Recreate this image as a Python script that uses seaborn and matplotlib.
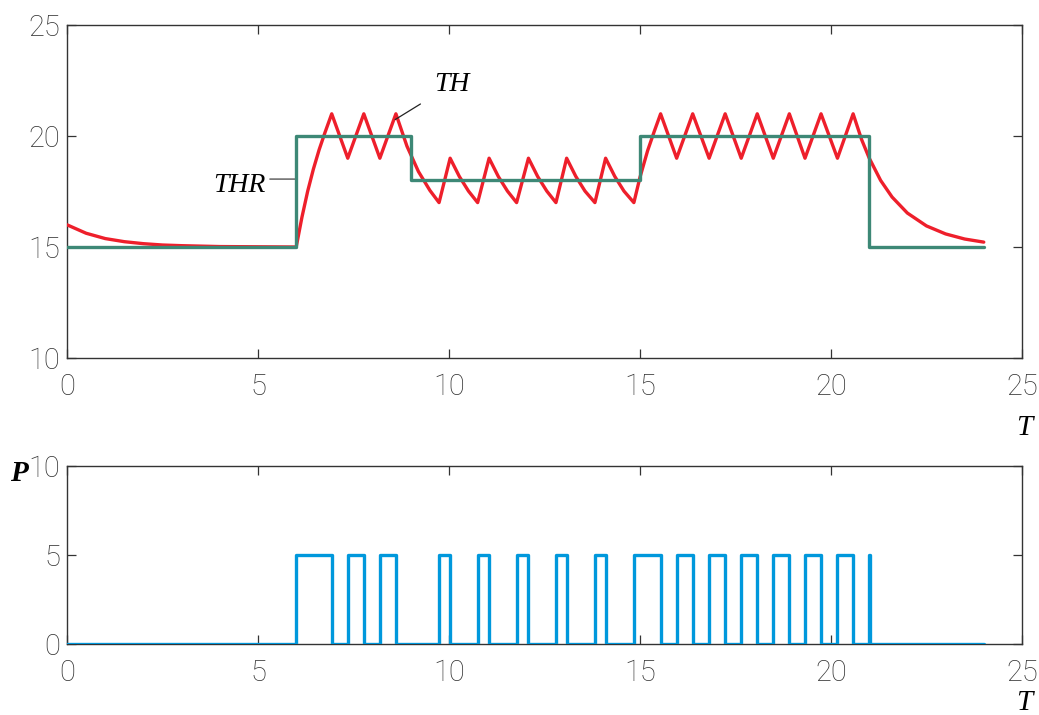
import matplotlib
matplotlib.use("Agg")
import matplotlib.pyplot as plt
import seaborn as sns

# Room temperature TH (time, value)
th_time = [0.0, 0.5, 1.0, 1.5, 2.0, 2.5, 3.0, 4.0, 5.0, 6.0,
           6.15, 6.3, 6.45, 6.6, 6.75, 6.93,
           7.35, 7.77, 8.19, 8.61,
           8.9, 9.2, 9.5, 9.74,
           10.03, 10.27, 10.51, 10.75,
           11.05, 11.29, 11.53, 11.77,
           12.08, 12.32, 12.56, 12.80,
           13.08, 13.32, 13.56, 13.82,
           14.10, 14.34, 14.58, 14.84,
           15.0, 15.2, 15.37, 15.54,
           15.96, 16.38, 16.81, 17.23, 17.65, 18.07, 18.49, 18.91,
           19.32, 19.74, 20.17, 20.58,
           20.8, 21.0, 21.3, 21.6, 22.0, 22.5, 23.0, 23.5, 24.0]
th_value = [16.0, 15.62, 15.38, 15.24, 15.15, 15.09, 15.06, 15.02, 15.01, 15.0,
            16.34, 17.51, 18.51, 19.38, 20.14, 21.0,
            19.0, 21.0, 19.0, 21.0,
            19.54, 18.40, 17.55, 17.0,
            19.0, 18.18, 17.52, 17.0,
            19.0, 18.18, 17.52, 17.0,
            19.0, 18.18, 17.52, 17.0,
            19.0, 18.18, 17.52, 17.0,
            19.0, 18.18, 17.52, 17.0,
            18.14, 19.34, 20.19, 21.0,
            19.0, 21.0, 19.0, 21.0, 19.0, 21.0, 19.0, 21.0,
            19.0, 21.0, 19.0, 21.0,
            19.85, 19.01, 18.0, 17.25, 16.53, 15.95, 15.59, 15.36, 15.22]

# Set point THR (switching times, level held until next time)
thr_time = [0, 6, 9, 15, 21, 24]
thr_value = [15, 20, 18, 20, 15, 15]

# Heater power P (switching times, level held until next time)
p_time = [0.0, 6.0, 6.93, 7.35, 7.77, 8.19, 8.61, 9.74, 10.03, 10.75, 11.05,
          11.77, 12.08, 12.80, 13.08, 13.82, 14.10, 14.84, 15.54, 15.96, 16.38,
          16.81, 17.23, 17.65, 18.07, 18.49, 18.91, 19.32, 19.74, 20.17, 20.58,
          21.0, 21.01, 24.0]
p_value = [0, 5, 0, 5, 0, 5, 0, 5, 0, 5, 0,
           5, 0, 5, 0, 5, 0, 5, 0, 5, 0,
           5, 0, 5, 0, 5, 0, 5, 0, 5, 0,
           5, 0, 0]

x_ticks = [0, 5, 10, 15, 20, 25]
top_y_ticks = [10, 15, 20, 25]
bottom_y_ticks = [0, 5, 10]

sns.set_theme(style="white")
plt.rcParams["font.family"] = ["Roboto", "DejaVu Sans"]
plt.rcParams["font.weight"] = "light"

RED = "#ee1f2b"
GREEN = "#3d8876"
BLUE = "#0098dc"
FRAME = "#333333"

fig = plt.figure(figsize=(10.39, 7.15), dpi=100)
ax1 = fig.add_axes([0.0645, 0.4993, 0.9191, 0.4657])
ax2 = fig.add_axes([0.0645, 0.0993, 0.9191, 0.2494])

sns.lineplot(x=th_time, y=th_value, ax=ax1, color=RED, linewidth=2.4,
             estimator=None, sort=False, zorder=3)
sns.lineplot(x=thr_time, y=thr_value, ax=ax1, color=GREEN, linewidth=2.4,
             estimator=None, sort=False, drawstyle="steps-post", zorder=4)
sns.lineplot(x=p_time, y=p_value, ax=ax2, color=BLUE, linewidth=2.4,
             estimator=None, sort=False, drawstyle="steps-post", zorder=3)

for ax, yt, ylim in ((ax1, top_y_ticks, (10, 25)), (ax2, bottom_y_ticks, (0, 10))):
    ax.set_xlim(0, 25)
    ax.set_ylim(*ylim)
    ax.set_xticks(x_ticks)
    ax.set_yticks(yt)
    ax.set_xticklabels([str(v) for v in x_ticks], fontweight="light")
    ax.set_yticklabels([str(v) for v in yt], fontweight="light")
    ax.set_xlabel("")
    ax.set_ylabel("")
    for s in ax.spines.values():
        s.set_visible(True)
        s.set_color(FRAME)
        s.set_linewidth(1.0)
    ax.tick_params(axis="both", which="both", direction="in", length=6.5,
                   width=0.9, color=FRAME, labelcolor="#333333",
                   labelsize=21, top=True, right=True, bottom=True, left=True)
    ax.tick_params(axis="x", pad=11)
    ax.tick_params(axis="y", pad=5)
    ax.grid(False)

serif = ["Liberation Serif", "DejaVu Serif"]
ax1.text(25.05, 6.85, "T", fontsize=21, style="italic", weight="normal",
         family=serif, color="black", ha="center", va="center", clip_on=False)
ax2.text(25.05, -3.31, "T", fontsize=21, style="italic", weight="normal",
         family=serif, color="black", ha="center", va="center", clip_on=False)
ax2.text(-1.25, 9.55, "P", fontsize=21, style="italic", weight="bold",
         family=serif, color="black", ha="center", va="center", clip_on=False)

ax1.annotate("TH", xy=(8.59, 20.74), xytext=(10.08, 22.32),
             fontsize=20, style="italic", weight="normal", family=serif,
             color="black", ha="center", va="center",
             arrowprops=dict(arrowstyle="-", color="#222222", lw=0.9,
                             shrinkA=9, shrinkB=0))
ax1.text(4.52, 17.78, "THR", fontsize=20, style="italic", weight="normal",
         family=serif, color="black", ha="center", va="center")
# Leader from the THR label to the set-point step
ax1.annotate("", xy=(5.97, 18.06), xytext=(5.31, 18.06),
             arrowprops=dict(arrowstyle="-", color="#555555", lw=1.0,
                             shrinkA=0, shrinkB=0))

fig.savefig("out.png", dpi=100)
